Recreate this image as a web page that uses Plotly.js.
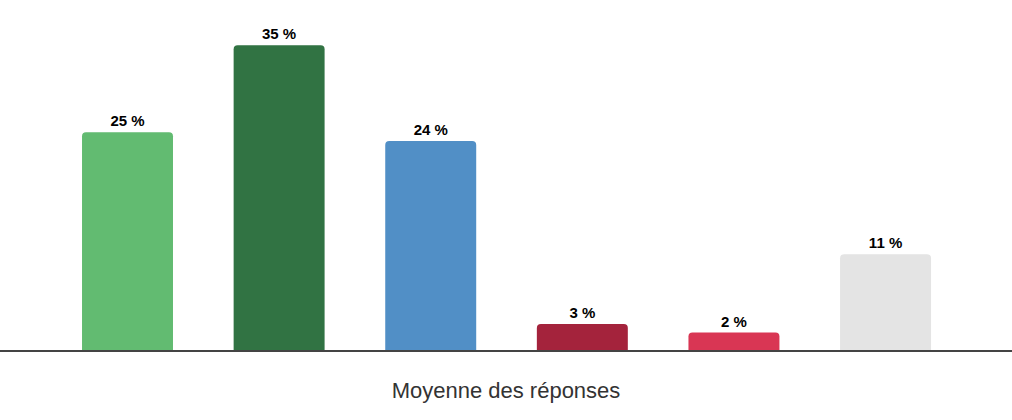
<!DOCTYPE html>
<html><head><meta charset="utf-8">
<script src="https://cdn.plot.ly/plotly-3.0.1.min.js"></script>
<style>html,body{margin:0;padding:0;background:#fff}#chart{width:1012px;height:420px}</style>
</head><body><div id="chart"></div>
<script>
const categories = ["A", "B", "C", "D", "E", "F"];
const values = [25, 35, 24, 3, 2, 11];
const labels = ["25 %", "35 %", "24 %", "3 %", "2 %", "11 %"];
const colors = ["#62bb71", "#317343", "#518fc6", "#a4233c", "#d93654", "#e4e4e4"];
const axisTitle = "Moyenne des réponses";

const trace = {
  type: "bar",
  x: categories,
  y: values,
  text: labels,
  texttemplate: "%{text}",
  textposition: "outside",
  cliponaxis: false,
  textfont: {family: "Liberation Sans, Arial, sans-serif", size: 15, color: "#000", weight: 700},
  marker: {color: colors, cornerradius: 4, line: {width: 0}},
  hoverinfo: "none"
};
const layout = {
  width: 1012, height: 420,
  margin: {l: 0, r: 0, t: 20, b: 70},
  paper_bgcolor: "#fff", plot_bgcolor: "#fff",
  bargap: 0.4,
  showlegend: false,
  xaxis: {
    range: [-0.841, 5.834],
    showticklabels: false, ticks: "",
    showgrid: false, zeroline: false,
    showline: true, linecolor: "#444", linewidth: 2,
    title: {text: axisTitle, standoff: 32, font: {family: "Liberation Sans, Arial, sans-serif", size: 22, color: "#333"}}
  },
  yaxis: {
    range: [0, 37.9],
    visible: false, showgrid: false, zeroline: false
  }
};
Plotly.newPlot("chart", [trace], layout, {displayModeBar: false, staticPlot: true});
</script></body></html>
